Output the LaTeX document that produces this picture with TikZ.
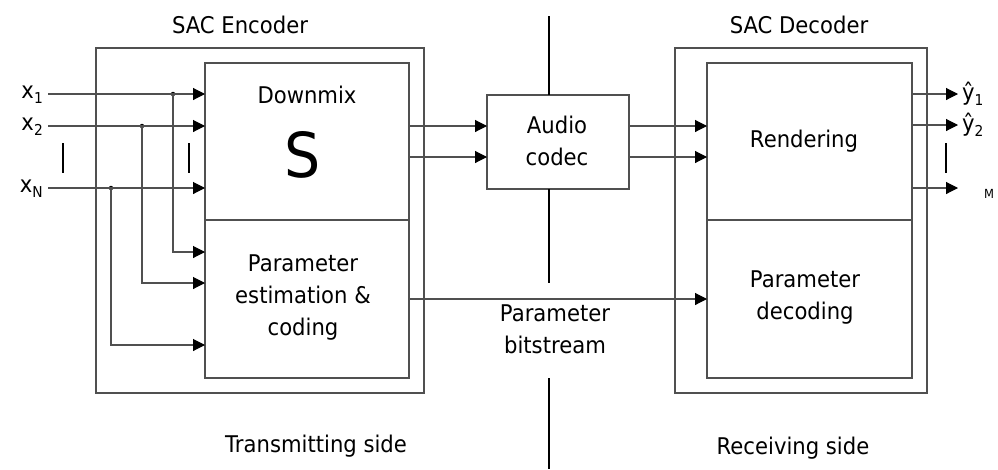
\documentclass[tikz,border=0pt]{standalone}
\usepackage{fontspec}
\setmainfont{DejaVu Sans}[FakeStretch=0.92]
\usetikzlibrary{arrows.meta}
\definecolor{edge}{HTML}{505050}
\newcommand{\sig}[2]{#1\raisebox{-5pt}{\fontsize{15}{15}\selectfont #2}}
\begin{document}
\begin{tikzpicture}[x=1pt,y=-1pt,
  box/.style={draw=edge,line width=1.2pt,inner sep=0pt,outer sep=0pt,rectangle},
  lbl/.style={font=\fontsize{23}{32}\selectfont,align=center,inner sep=0pt},
  wire/.style={draw=edge,line width=1.1pt},
  arr/.style={wire,-{Triangle[length=12pt,width=12pt,color=black]}},
  bar/.style={draw=black,line width=1.5pt},
  dot/.style={circle,fill=black,inner sep=0pt,minimum size=4.5pt}]
\useasboundingbox (0,0) rectangle (998,469);

% encoder
\node[box,minimum width=328pt,minimum height=345pt] (enc) at (260,220.5) {};
\node[box,minimum width=204pt,minimum height=157pt] (dmx) at (307,141.5) {};
\node[box,minimum width=204pt,minimum height=158pt] (pest) at (307,299) {};
\node[lbl] (pestt) at (303,298) {Parameter\\estimation \&\\coding};
\node[lbl,anchor=base] (enct) at (240,33) {SAC Encoder};
\node[lbl] (dmxt) at (307,95) {Downmix};
\node[inner sep=0pt,font=\fontsize{62}{62}\selectfont] (sym) at (303,155) {S};
\node[lbl,anchor=base] (txs) at (316,452) {Transmitting side};

% audio codec
\node[box,minimum width=142pt,minimum height=94pt] (codec) at (558,142) {};
\node[lbl] (codect) at (557,141) {Audio\\codec};
\node[lbl] (pbs) at (555,329) {Parameter\\bitstream};

% decoder
\node[box,minimum width=252pt,minimum height=345pt] (dec) at (801,220.5) {};
\node[box,minimum width=205pt,minimum height=157pt] (rend) at (809.5,141.5) {};
\node[box,minimum width=205pt,minimum height=158pt] (pdec) at (809.5,299) {};
\node[lbl] (rendt) at (804,141) {Rendering};
\node[lbl] (pdect) at (805,298) {Parameter\\decoding};
\node[lbl,anchor=base] (dect) at (799,33) {SAC Decoder};
\node[lbl,anchor=base] (rxs) at (793,454) {Receiving side};

% input signals
\node[lbl,anchor=base east] (x1) at (43,98) {\sig{x}{1}};
\node[lbl,anchor=base east] (x2) at (43,130) {\sig{x}{2}};
\node[lbl,anchor=base east] (xn) at (43,192) {\sig{x}{N}};
\coordinate (i1) at (48,94);
\coordinate (i2) at (48,126);
\coordinate (in) at (48,188);
\node[dot] (d1) at (173,94) {};
\node[dot] (d2) at (142,126) {};
\node[dot] (dn) at (111,188) {};
\coordinate (b1) at (0,252);
\coordinate (b2) at (0,283);
\coordinate (bn) at (0,345);
\draw[arr] (i1) -- (dmx.west |- i1);
\draw[arr] (i2) -- (dmx.west |- i2);
\draw[arr] (in) -- (dmx.west |- in);
\draw[arr] (d1.center) |- (pest.west |- b1);
\draw[arr] (d2.center) |- (pest.west |- b2);
\draw[arr] (dn.center) |- (pest.west |- bn);
\coordinate (v1a) at (63,143); \coordinate (v1b) at (63,173);
\coordinate (v2a) at (189,143); \coordinate (v2b) at (189,173);
\draw[bar] (v1a) -- (v1b);
\draw[bar] (v2a) -- (v2b);

% downmix and parameter paths
\coordinate (ya) at (0,126);
\coordinate (yb) at (0,157);
\draw[arr] (dmx.east |- ya) -- (codec.west |- ya);
\draw[arr] (dmx.east |- yb) -- (codec.west |- yb);
\draw[arr] (codec.east |- ya) -- (rend.west |- ya);
\draw[arr] (codec.east |- yb) -- (rend.west |- yb);
\coordinate (yp) at (0,299);
\draw[arr] (pest.east |- yp) -- (pdec.west |- yp);

% output signals
\coordinate (o1) at (958,94);
\coordinate (o2) at (958,125);
\coordinate (om) at (958,188);
\draw[arr] (rend.east |- o1) -- (o1);
\draw[arr] (rend.east |- o2) -- (o2);
\draw[arr] (rend.east |- om) -- (om);
\node[lbl,anchor=base west] (y1) at (962,100) {\sig{ŷ}{1}};
\node[lbl,anchor=base west] (y2) at (962,131) {\sig{ŷ}{2}};
\node[inner sep=0pt,anchor=base west,font=\fontsize{12.5}{14}\selectfont] (ym) at (984,198) {M};
\coordinate (v3a) at (946,143); \coordinate (v3b) at (946,173);
\draw[bar] (v3a) -- (v3b);

% channel boundary
\coordinate (cTop) at (549,16);
\coordinate (cMid) at (549,283);
\coordinate (cLow) at (549,378);
\coordinate (cBot) at (549,469);
\draw[bar] (cTop) -- (cTop |- codec.north);
\draw[bar] (cTop |- codec.south) -- (cMid);
\draw[bar] (cLow) -- (cBot);
\end{tikzpicture}
\end{document}
